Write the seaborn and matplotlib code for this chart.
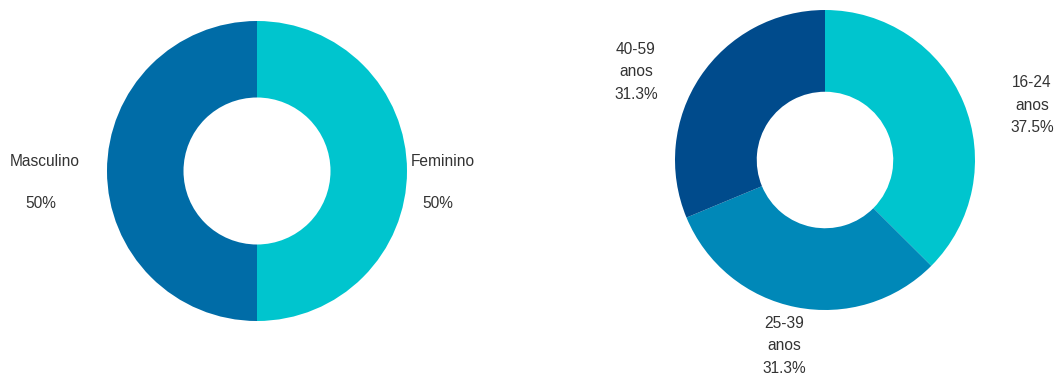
import matplotlib
matplotlib.use("Agg")
import matplotlib.pyplot as plt
import seaborn as sns

sns.set_theme(style="white")
plt.rcParams['font.family'] = ['Liberation Sans', 'DejaVu Sans']

# Data
gender_labels = ["Feminino", "Masculino"]
gender_values = [50, 50]
gender_colors = ["#00C5CE", "#006CA7"]

age_labels = ["16-24\nanos", "25-39\nanos", "40-59\nanos"]
age_values = [37.5, 31.3, 31.3]
age_colors = ["#00C5CE", "#0088B8", "#004B8C"]

W, H = 1055, 376
fig = plt.figure(figsize=(W / 100, H / 100), dpi=100)

def add_pix_axes(cx, cy, r):
    return fig.add_axes([(cx - r) / W, (H - cy - r) / H, 2 * r / W, 2 * r / H])

inner = 0.49
ax1 = add_pix_axes(257, 171, 150)
ax1.pie(gender_values, colors=gender_colors, startangle=90, counterclock=False,
        radius=1, wedgeprops=dict(width=1 - inner, edgecolor="none"))
ax1.set_xlim(-1, 1); ax1.set_ylim(-1, 1); ax1.axis("off")

ax2 = add_pix_axes(825, 160, 150)
ax2.pie(age_values, colors=age_colors, startangle=90, counterclock=False,
        radius=1, wedgeprops=dict(width=1 - 0.455, edgecolor="none"))
ax2.set_xlim(-1, 1); ax2.set_ylim(-1, 1); ax2.axis("off")

tc = "#333333"
fs = 11.2

def ptext(x, y, s, **kw):
    fig.text(x / W, 1 - y / H, s, ha="center", va="center", color=tc,
             fontsize=fs, **kw)

# gender labels
ptext(45, 161, gender_labels[1])
ptext(41, 204, f"{gender_values[1]}%")
ptext(443, 161, gender_labels[0])
ptext(438, 204, f"{gender_values[0]}%")

# age labels
age_pos = [(1032, 105), (784, 346), (636, 72)]
for (x, y), lab, v in zip(age_pos, age_labels, age_values):
    fig.text(x / W, 1 - y / H, f"{lab}\n{v}%", ha="center", va="center",
             color=tc, fontsize=fs, linespacing=1.66)

fig.savefig("out.png", dpi=100, facecolor="white")
